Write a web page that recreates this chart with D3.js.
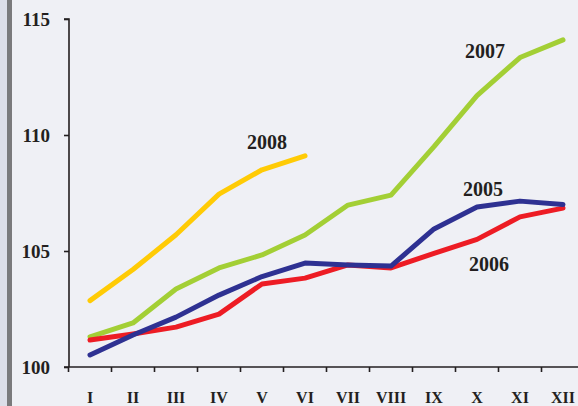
<!DOCTYPE html>
<html>
<head>
<meta charset="utf-8">
<script src="https://cdn.jsdelivr.net/npm/d3@7.9.0/dist/d3.min.js"></script>
<style>
  html, body { margin: 0; padding: 0; background: #eff0f5; }
  svg { display: block; }
  text { font-family: "Liberation Serif", "Times New Roman", serif; font-weight: bold; fill: #231f20; }
</style>
</head>
<body>
<svg id="chart" width="578" height="406"></svg>
<script>
const months = ['I', 'II', 'III', 'IV', 'V', 'VI', 'VII', 'VIII', 'IX', 'X', 'XI', 'XII'];
const yTicks = [100, 105, 110, 115];

const v2005 = [100.52, 101.38, 102.15, 103.1, 103.9, 104.48, 104.4, 104.35, 105.95, 106.9, 107.15, 107.0];
const v2006 = [101.16, 101.42, 101.72, 102.28, 103.58, 103.83, 104.4, 104.27, 104.9, 105.5, 106.47, 106.85];
const v2007 = [101.3, 101.9, 103.36, 104.27, 104.83, 105.69, 106.98, 107.41, 109.5, 111.7, 113.34, 114.1];
const v2008 = [102.86, 104.2, 105.7, 107.45, 108.5, 109.1];

const series = [
  { name: '2007', values: v2007, color: '#a3cf35', label: [485, 58] },
  { name: '2008', values: v2008, color: '#ffcb05', label: [267, 149] },
  { name: '2006', values: v2006, color: '#ed1c24', label: [489, 271] },
  { name: '2005', values: v2005, color: '#2e3192', label: [483, 196] },
];

const svg = d3.select('#chart');

// left frame strip
svg.append('rect').attr('x', 0).attr('y', 0).attr('width', 7).attr('height', 406).attr('fill', '#dcdee8');
svg.append('rect').attr('x', 7).attr('y', 0).attr('width', 5).attr('height', 406).attr('fill', '#7a7a7c');

const x = d3.scaleBand().domain(months).range([68.5, 68.5 + 12 * 43]);
const y = d3.scaleLinear().domain([100, 115]).range([367, 19]);

// y axis
const yAxis = svg.append('g').attr('transform', 'translate(69,0)')
  .call(d3.axisLeft(y).tickValues(yTicks).tickSize(5).tickPadding(14));
yAxis.select('.domain').attr('d', `M-5,${y(115)}H0V${y(100)}`);
yAxis.selectAll('line, .domain').attr('stroke', '#231f20').attr('stroke-width', 1.6);
yAxis.selectAll('text').attr('font-size', 19).attr('fill', '#231f20')
  .attr('font-family', '"Liberation Serif", serif');

// x axis
const xAxis = svg.append('g').attr('transform', `translate(0,${y(100)})`)
  .call(d3.axisBottom(x).tickSize(0).tickPadding(25));
xAxis.select('.domain').attr('d', `M64,0H578`).attr('stroke', '#231f20').attr('stroke-width', 1.6);
xAxis.selectAll('text').attr('font-size', 16).attr('fill', '#231f20')
  .attr('font-family', '"Liberation Serif", serif');
xAxis.selectAll('.tick').each(function (d) {
  d3.select(this).append('line')
    .attr('x1', -x.bandwidth() / 2).attr('x2', -x.bandwidth() / 2)
    .attr('y1', 0).attr('y2', 5)
    .attr('stroke', '#231f20').attr('stroke-width', 1.6);
});

const line = d3.line()
  .x((d, i) => x(months[i]) + x.bandwidth() / 2)
  .y((d) => y(d));

series.forEach((s) => {
  svg.append('path')
    .attr('d', line(s.values))
    .attr('fill', 'none')
    .attr('stroke', s.color)
    .attr('stroke-width', 5)
    .attr('stroke-linejoin', 'round')
    .attr('stroke-linecap', 'round');
  svg.append('text')
    .attr('x', s.label[0]).attr('y', s.label[1])
    .attr('text-anchor', 'middle')
    .attr('font-size', 20)
    .text(s.name);
});
</script>
</body>
</html>
